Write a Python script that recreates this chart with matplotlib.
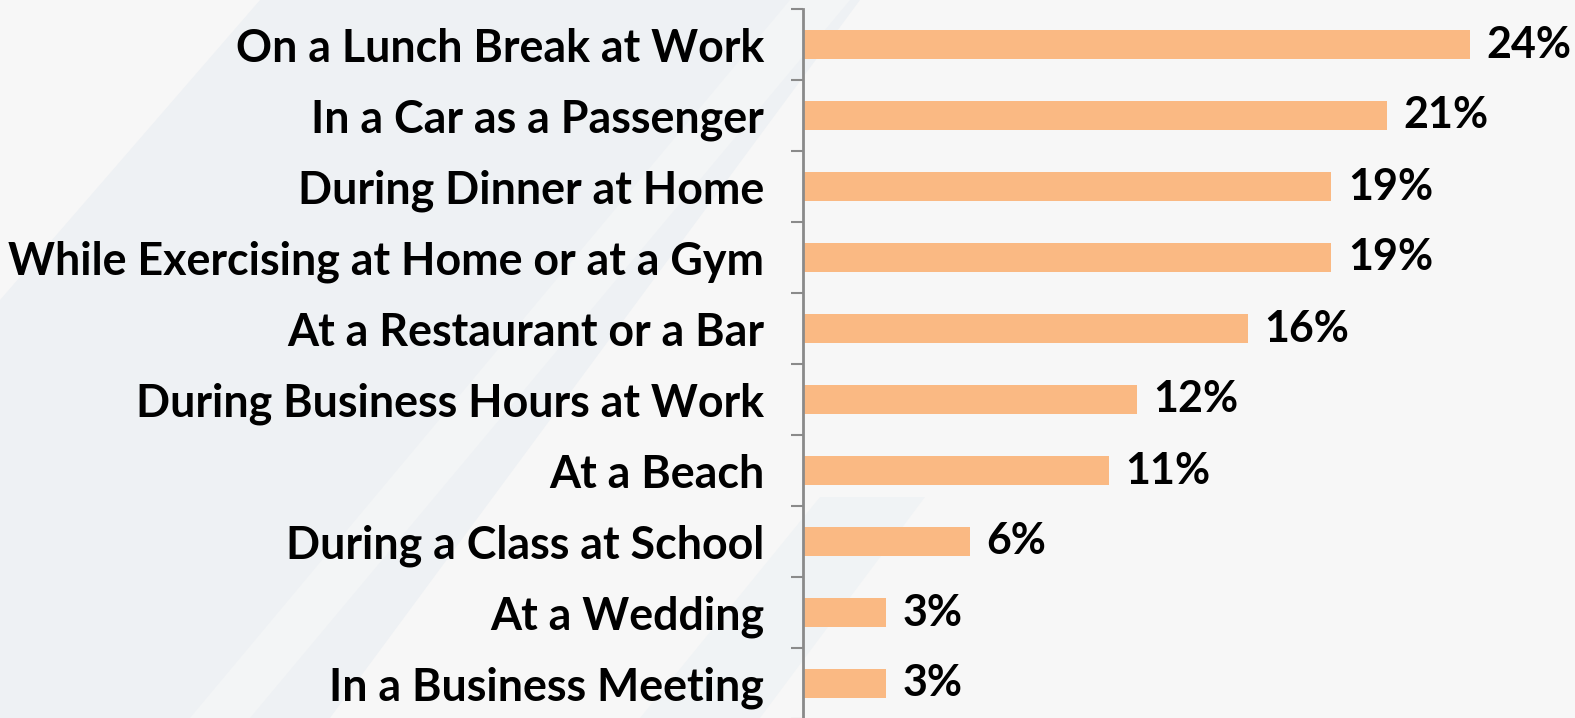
import matplotlib
matplotlib.use("Agg")
import matplotlib.pyplot as plt
from matplotlib.patches import Polygon

categories = [
    "On a Lunch Break at Work",
    "In a Car as a Passenger",
    "During Dinner at Home",
    "While Exercising at Home or at a Gym",
    "At a Restaurant or a Bar",
    "During Business Hours at Work",
    "At a Beach",
    "During a Class at School",
    "At a Wedding",
    "In a Business Meeting",
]
values = [24, 21, 19, 19, 16, 12, 11, 6, 3, 3]
value_labels = ["24%", "21%", "19%", "19%", "16%", "12%", "11%", "6%", "3%", "3%"]

W, H = 1575, 718
fig = plt.figure(figsize=(W / 100, H / 100), dpi=100, facecolor="#F7F7F7")

# faint background shapes (figure pixel coords, y from top)
def px(pts):
    return [(x / W, 1 - y / H) for x, y in pts]

bg = fig.add_axes([0, 0, 1, 1], zorder=0)
bg.set_axis_off()
bg.set_xlim(0, 1); bg.set_ylim(0, 1)
bg.add_patch(Polygon(px([(0, 300), (260, 0), (860, 0), (330, 718), (0, 718)]),
                     closed=True, facecolor="#EEF1F4", edgecolor="none"))
bg.add_patch(Polygon(px([(640, 718), (820, 497), (925, 497), (760, 718)]),
                     closed=True, facecolor="#F0F3F5", edgecolor="none"))
bg.add_patch(Polygon(px([(190, 718), (790, 0), (850, 0), (250, 718)]),
                     closed=True, facecolor="#F3F5F6", edgecolor="none"))

ax_left = 803 / W
ax_top = 1 - 9 / H
ax_bottom = 1 - 719 / H
ax = fig.add_axes([ax_left, ax_bottom, 1 - ax_left, ax_top - ax_bottom], zorder=1)
ax.set_facecolor("none")

y = list(range(len(categories)))
ax.barh(y, values, height=0.41, color="#FAB983", edgecolor="none")

ax.set_ylim(len(categories) - 0.5, -0.5)
ax.set_xlim(0, (W - 803) / 27.8)

ax.set_yticks(y)
ax.set_yticklabels(categories, fontsize=32.2, fontweight="bold", family="Lato", color="black")
ax.tick_params(axis="y", which="major", length=0, pad=28)
ax.set_yticks([i - 0.5 for i in range(len(categories) + 1)], minor=True)
ax.tick_params(axis="y", which="minor", length=9, width=1.5, color="#8A8A8A")
ax.set_xticks([])

for s in ["top", "right", "bottom"]:
    ax.spines[s].set_visible(False)
ax.spines["left"].set_color("#8A8A8A")
ax.spines["left"].set_linewidth(2)

for yi, v, lab in zip(y, values, value_labels):
    ax.annotate(lab, xy=(v, yi), xytext=(12, 0), textcoords="offset points",
                ha="left", va="center", fontsize=31, fontweight="bold",
                family="Lato", color="black", annotation_clip=False)

fig.savefig("out.png", dpi=100, facecolor=fig.get_facecolor())
